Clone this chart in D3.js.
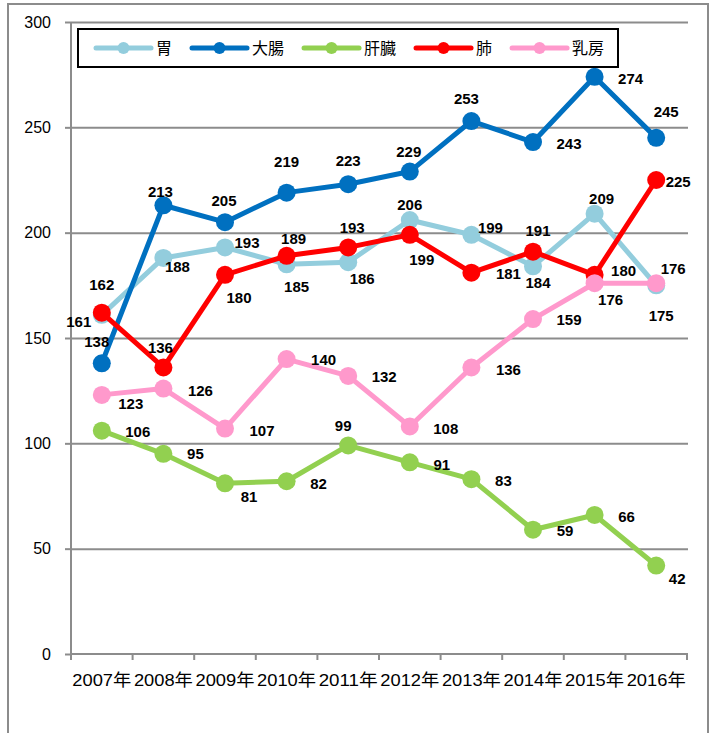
<!DOCTYPE html>
<html><head><meta charset="utf-8">
<script src="https://cdn.jsdelivr.net/npm/d3@7"></script>
<style>
html,body{margin:0;padding:0;background:#fff;}
svg{display:block;}
</style></head>
<body>
<svg id="chart" width="716" height="733"></svg>
<script>
// ---- data ----
const years = ["2007年","2008年","2009年","2010年","2011年","2012年","2013年","2014年","2015年","2016年"];
const seriesNames = ["胃","大腸","肝臓","肺","乳房"];
const stomach = [161,188,193,185,186,206,199,184,209,175];
const colon   = [138,213,205,219,223,229,253,243,274,245];
const liver   = [106,95,81,82,99,91,83,59,66,42];
const lung    = [162,136,180,189,193,199,181,191,180,225];
const breast  = [123,126,107,140,132,108,136,159,176,176];
const yTicks  = [0,50,100,150,200,250,300];

// ---- layout (label offsets from each point, px) ----
const labelOffsets = [
  [[-23,7],[14,9],[22,-5],[10,22],[14,16],[0,-15],[19,-7],[5,16],[7,-15],[5,30]],
  [[-5,-22],[-3,-14],[-1,-22],[0,-31],[0,-24],[-1,-20],[-5,-22],[36,2],[36,2],[10,-26]],
  [[36,1],[32,0],[24,13],[32,2],[-5,-20],[32,2],[32,1],[32,1],[32,2],[21,13]],
  [[0,-28],[-3,-20],[14,23],[7,-17],[4,-20],[12,25],[37,1],[5,-21],[29,-4],[22,2]],
  [[29,9],[37,2],[37,2],[37,1],[36,1],[36,2],[37,2],[36,1],[16,16],[17,-15]]
];
const colors = ["#93CDDD","#0070C0","#92D050","#FF0000","#FF99CC"];
const seriesValues = [stomach, colon, liver, lung, breast];

const svg = d3.select("#chart");
const L = 71, R = 687, T = 22, B = 654;
const x = d3.scaleBand().domain(years).range([L, R]).paddingInner(0).paddingOuter(0);
const y = d3.scaleLinear().domain([0,300]).range([B, T]);
const cx = d => x(d) + x.bandwidth()/2;

// outer frame
svg.append("rect").attr("x",8).attr("y",4).attr("width",700).attr("height",760)
  .attr("fill","#fff").attr("stroke","#8c8c8c").attr("stroke-width",2);

// gridlines
const grid = svg.append("g").attr("transform",`translate(${L},0)`)
  .call(d3.axisLeft(y).tickValues(yTicks.filter(v=>v>0)).tickSize(-(R-L+1)).tickFormat(""));
grid.select(".domain").remove();
grid.selectAll("line").attr("stroke","#8c8c8c").attr("stroke-width",2);

// y axis
const ya = svg.append("g").attr("transform",`translate(${L},0)`)
  .call(d3.axisLeft(y).tickValues(yTicks).tickSize(6).tickPadding(14));
ya.select(".domain").attr("stroke","#8c8c8c").attr("stroke-width",2).attr("d",`M0,${T}V${B}`);
ya.selectAll("line").attr("stroke","#8c8c8c").attr("stroke-width",2);
ya.selectAll("text").attr("font-family","'Liberation Sans',Arial,sans-serif")
  .attr("font-size",16).attr("fill","#000");

// x axis
const xa = svg.append("g").attr("transform",`translate(0,${B})`)
  .call(d3.axisBottom(x).tickSize(0).tickPadding(20));
xa.select(".domain").attr("stroke","#8c8c8c").attr("stroke-width",2).attr("d",`M${L},0H${R+1}`);
xa.selectAll("text").attr("font-family","'Liberation Sans Narrow','Liberation Sans',Arial,'Noto Sans CJK JP',sans-serif")
  .attr("font-size",17).attr("fill","#000")
  .attr("textLength",59).attr("lengthAdjust","spacingAndGlyphs");
const bounds = years.map(d=>x(d)).concat([x(years[years.length-1])+x.bandwidth()]);
svg.append("g").selectAll("line").data(bounds).join("line")
  .attr("x1",d=>d).attr("x2",d=>d).attr("y1",B).attr("y2",B+6)
  .attr("stroke","#8c8c8c").attr("stroke-width",2);

// series
const line = d3.line().x((d,i)=>cx(years[i])).y(d=>y(d));
seriesValues.forEach((vals, s) => {
  const g = svg.append("g");
  g.append("path").datum(vals).attr("d", line).attr("fill","none")
    .attr("stroke", colors[s]).attr("stroke-width",5).attr("stroke-linejoin","round");
  g.selectAll("circle").data(vals).join("circle")
    .attr("cx",(d,i)=>cx(years[i])).attr("cy",d=>y(d)).attr("r",9).attr("fill",colors[s]);
});
// labels
seriesValues.forEach((vals, s) => {
  svg.append("g").selectAll("text").data(vals).join("text")
    .attr("x",(d,i)=>cx(years[i]) + labelOffsets[s][i][0])
    .attr("y",(d,i)=>y(d) + labelOffsets[s][i][1])
    .attr("dy","0.36em").attr("text-anchor","middle")
    .attr("font-family","'Liberation Sans Narrow','Liberation Sans',Arial,sans-serif")
    .attr("font-weight","bold").attr("font-size",15).attr("fill","#000")
    .text(d=>d);
});

// legend
const lg = svg.append("g");
lg.append("rect").attr("x",78).attr("y",29).attr("width",540).attr("height",38)
  .attr("fill","#fff").attr("stroke","#000").attr("stroke-width",2);
let lx = 96;
const ly = 48;
seriesNames.forEach((name, s) => {
  lg.append("line").attr("x1",lx).attr("x2",lx+55).attr("y1",ly).attr("y2",ly)
    .attr("stroke",colors[s]).attr("stroke-width",5).attr("stroke-linecap","round");
  lg.append("circle").attr("cx",lx+27.5).attr("cy",ly).attr("r",6).attr("fill",colors[s]);
  const t = lg.append("text").attr("x",lx+60).attr("y",ly).attr("dy","0.36em")
    .attr("font-family","'Noto Sans CJK JP',sans-serif").attr("font-size",16).attr("fill","#000")
    .text(name);
  const w = t.node().getComputedTextLength();
  lx = lx + 60 + w + 20;
});
</script>
</body></html>
